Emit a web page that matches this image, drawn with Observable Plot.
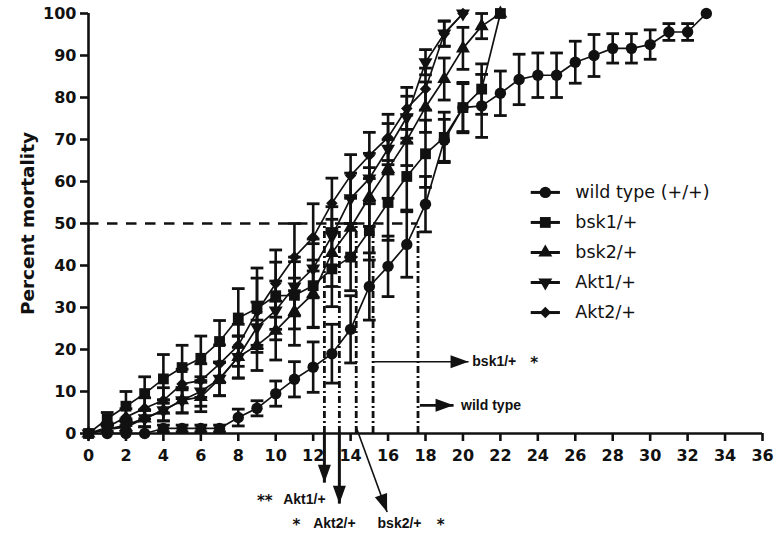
<!DOCTYPE html>
<html>
<head>
<meta charset="utf-8">
<script src="https://cdn.jsdelivr.net/npm/d3@7"></script>
<script src="https://cdn.jsdelivr.net/npm/@observablehq/plot@0.6"></script>
<style>
  body { margin: 0; background: #fff; }
  #chart svg { display: block; }
</style>
</head>
<body>
<div id="chart"></div>
<script>
// ---- data ----
const seriesNames = ["wild type (+/+)", "bsk1/+", "bsk2/+", "Akt1/+", "Akt2/+"];

// value at day = array index (days 0,1,2,...)
const wildType    = [0,0,0,0,1.2,1.2,1.2,1.2,3.8,6,9.5,12.9,15.8,19,24.8,35,39.8,45,54.6,69.8,77.6,78,81,84.3,85.3,85.3,88.4,90,91.7,91.7,92.6,95.6,95.6,100];
const wildTypeErr = [0,0,0,0,0.8,0.8,0.8,0.8,2,1.8,3,4.2,6,7,8,8,7.2,7.8,6.6,5,5.7,7.5,5.3,6,5.3,5.3,5,5,3.5,3.5,3.5,2,2,0];

const bsk1    = [0,3.5,6.5,9.5,13,15.7,17.9,21.9,27.5,29.8,32.8,32.9,35.2,39.2,42,48.3,55,61.2,66.6,70.5,77.6,82,100];
const bsk1Err = [0,1.5,3.5,4,5.8,5.3,5.3,5,7,9.6,8,8,10,9,8,7,9,8,8,6,6,6,0];

const bsk2    = [0,1,1.5,3.6,5.5,7.9,8.7,13,18.2,21,24.5,29,33.3,43,49,56.3,63,69.8,77.7,84.4,91.7,97,100];
const bsk2Err = [0,1,1.5,2,2.5,3,3.5,4,5,6,7,8,8,8,7,7,7,6,6,5,5,3,0];

const akt1    = [0,1,2,3.6,5.5,7.9,10,13,18.2,25.3,29.3,35,39.3,47,56,60.7,67.8,75.3,88.4,95.2,100];
const akt1Err = [0,1,1.5,2,2.5,3,3.5,4,5,6,7,7,7,7,6,6,6,5,3,3,0];

const akt2    = [0,1.5,3.9,6,7.9,11.8,12.6,16.6,21,29,35.7,42,46.7,54.8,61.4,66.2,70.5,77.4,82,95.2,100];
const akt2Err = [0,1,2,2.5,3,3.5,4,4.5,5,8,8,8,8,6,5,5.5,5.5,5,5,3,0];

const xTicks = [0,2,4,6,8,10,12,14,16,18,20,22,24,26,28,30,32,34,36];
const yTicks = [0,10,20,30,40,50,60,70,80,90,100];

// median survival (50% mortality) times per genotype
const lt50Labels = ["wild type", "bsk1/+", "bsk2/+", "Akt1/+", "Akt2/+"];
const lt50Days   = [17.6, 15.2, 14.3, 12.6, 13.4];
const lt50Stars  = ["", "*", "*", "**", "*"];

// ---- build tables ----
function rows(name, vals, errs) {
  return vals.map((v, i) => ({series: name, day: i, value: v, err: errs[i]}));
}
const table = [
  ...rows(seriesNames[0], wildType, wildTypeErr),
  ...rows(seriesNames[1], bsk1, bsk1Err),
  ...rows(seriesNames[2], bsk2, bsk2Err),
  ...rows(seriesNames[3], akt1, akt1Err),
  ...rows(seriesNames[4], akt2, akt2Err)
];
const withErr = table.filter(d => d.err > 0);

const symbols = {
  [seriesNames[0]]: {symbol: "circle", r: 5.7, rotate: 0},
  [seriesNames[1]]: {symbol: "square", r: 6.1, rotate: 0},
  [seriesNames[2]]: {symbol: "triangle", r: 5.2, rotate: 0},
  [seriesNames[3]]: {symbol: "triangle", r: 5.2, rotate: 180},
  [seriesNames[4]]: {symbol: "diamond2", r: 5.2, rotate: 0}
};

// arrowhead: tip at origin, pointing up before rotation
const arrowHead = {
  draw(ctx) { ctx.moveTo(0, 0); ctx.lineTo(-6.5, 18); ctx.lineTo(6.5, 18); ctx.closePath(); }
};

const black = "#111";
const cap = 0.34;

// legend layout (data coordinates)
const legX = 24.4, legHalf = 0.78, legTextX = 26.0, legTop = 57.4, legStep = 7.15;
const legend = seriesNames.map((s, i) => ({series: s, y: legTop - i * legStep}));

// annotation geometry
const idx = n => lt50Labels.indexOf(n);
const wtDay = lt50Days[idx("wild type")], b1Day = lt50Days[idx("bsk1/+")], b2Day = lt50Days[idx("bsk2/+")];
const a1Day = lt50Days[idx("Akt1/+")], a2Day = lt50Days[idx("Akt2/+")];

const arrows = [
  {x1: a1Day, y1: 0, x2: a1Day, y2: -11.7, rot: 180, w: 3},
  {x1: a2Day, y1: 0, x2: a2Day, y2: -16.7, rot: 180, w: 3},
  {x1: b2Day, y1: 1.5, x2: 15.95, y2: -18.7, rot: 160, w: 1.6},
  {x1: b1Day, y1: 17.1, x2: 20.3, y2: 17.1, rot: 90, w: 1.6},
  {x1: wtDay + 0.1, y1: 6.7, x2: 19.5, y2: 6.7, rot: 90, w: 2.6}
];
const labels = [
  {x: 10.4, y: -15.7, t: lt50Labels[idx("Akt1/+")]},
  {x: 12.0, y: -21.4, t: lt50Labels[idx("Akt2/+")]},
  {x: 15.44, y: -21.4, t: lt50Labels[idx("bsk2/+")]},
  {x: 20.5, y: 17.1, t: lt50Labels[idx("bsk1/+")]},
  {x: 19.9, y: 6.7, t: lt50Labels[idx("wild type")]}
];
const stars = [
  {x: 9.0, y: -15.7, t: lt50Stars[idx("Akt1/+")]},
  {x: 10.9, y: -21.4, t: lt50Stars[idx("Akt2/+")]},
  {x: 18.6, y: -21.4, t: lt50Stars[idx("bsk2/+")]},
  {x: 23.6, y: 17.1, t: lt50Stars[idx("bsk1/+")]}
];

const dotMarks = seriesNames.map(s => Plot.dot(table.filter(d => d.series === s), {
  x: "day", y: "value", symbol: symbols[s].symbol, r: symbols[s].r, rotate: symbols[s].rotate,
  fill: black, stroke: "none"
}));
const legendDots = seriesNames.map(s => Plot.dot(legend.filter(d => d.series === s), {
  x: legX, y: "y", symbol: symbols[s].symbol, r: symbols[s].r, rotate: symbols[s].rotate,
  fill: black, stroke: "none"
}));

const chart = Plot.plot({
  width: 780,
  height: 534,
  marginLeft: 88,
  marginRight: 18,
  marginTop: 13,
  marginBottom: 101,
  style: {fontFamily: "DejaVu Sans, sans-serif", background: "#fff", color: black},
  x: {domain: [0, 36]},
  y: {domain: [0, 100]},
  marks: [
    // 50% reference and LT50 drop lines
    Plot.ruleY([50], {x1: 0, x2: wtDay, stroke: black, strokeWidth: 2.6, strokeDasharray: "10.5,8.5"}),
    Plot.ruleX(lt50Days, {x: d => d, y1: 0, y2: 50, stroke: black, strokeWidth: 2.8, strokeDasharray: "7,3,2,3"}),
    // series lines
    Plot.line(table, {x: "day", y: "value", z: "series", stroke: black, strokeWidth: 1.7}),
    // error bars
    Plot.ruleX(withErr, {x: "day", y1: d => Math.max(0, d.value - d.err), y2: d => d.value + d.err, stroke: black, strokeWidth: 2.6}),
    Plot.link(withErr, {x1: d => d.day - cap, x2: d => d.day + cap, y1: d => d.value + d.err, y2: d => d.value + d.err, stroke: black, strokeWidth: 2.8}),
    Plot.link(withErr.filter(d => d.value - d.err > 0), {x1: d => d.day - cap, x2: d => d.day + cap, y1: d => d.value - d.err, y2: d => d.value - d.err, stroke: black, strokeWidth: 2.8}),
    ...dotMarks,
    // axes
    Plot.ruleX([0], {y1: 0, y2: 100, stroke: black, strokeWidth: 2.6}),
    Plot.ruleY([0], {x1: 0, x2: 36, stroke: black, strokeWidth: 2.6}),
    Plot.axisY({ticks: yTicks, tickSize: 8, tickPadding: 4, fontSize: 16, fontWeight: "bold", stroke: black, strokeWidth: 2.6, label: null}),
    Plot.axisX({ticks: xTicks, tickSize: 8, tickPadding: 8, fontSize: 16, fontWeight: "bold", stroke: black, strokeWidth: 2.6, label: null}),
    Plot.text(["Percent mortality"], {frameAnchor: "left", textAnchor: "middle", rotate: -90, dx: -60, fontSize: 18.5, fontWeight: "bold", fill: black}),
    // legend
    Plot.link(legend, {x1: legX - legHalf, x2: legX + legHalf, y1: "y", y2: "y", stroke: black, strokeWidth: 3}),
    ...legendDots,
    Plot.text(legend, {x: legTextX, y: "y", text: "series", textAnchor: "start", lineAnchor: "middle", fontSize: 17.5, fill: black}),
    // annotation arrows
    Plot.link(arrows, {x1: "x1", y1: "y1", x2: "x2", y2: "y2", stroke: black, strokeWidth: "w"}),
    Plot.dot(arrows, {x: "x2", y: "y2", symbol: arrowHead, rotate: "rot", fill: black, stroke: "none"}),
    Plot.text(labels, {x: "x", y: "y", text: "t", textAnchor: "start", lineAnchor: "middle", fontFamily: "Liberation Sans, Arial, sans-serif", fontSize: 14, fontWeight: "bold", fill: black}),
    Plot.text(stars, {x: "x", y: "y", text: "t", textAnchor: "start", lineAnchor: "middle", dy: 1.5, fontFamily: "DejaVu Sans, sans-serif", fontSize: 15, fontWeight: "bold", fill: black})
  ]
});
document.getElementById("chart").appendChild(chart);
</script>
</body>
</html>
